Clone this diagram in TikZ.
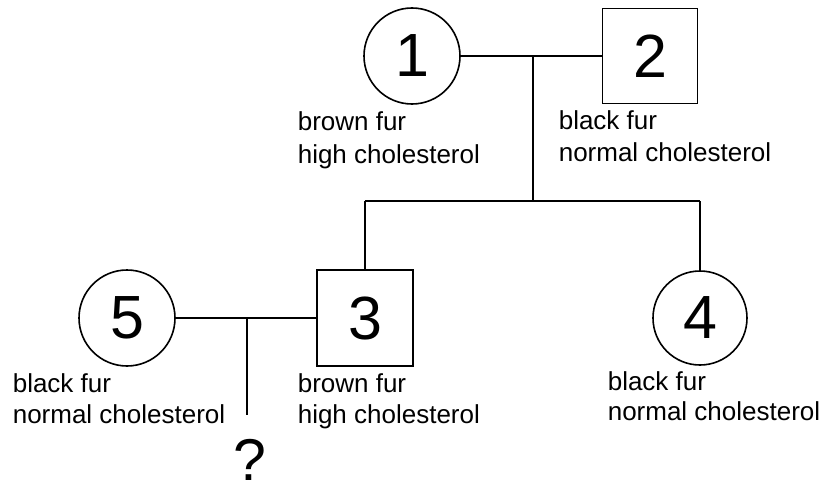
\documentclass[tikz,border=0pt]{standalone}
\usepackage{fontspec}
\setmainfont{Liberation Sans}
\begin{document}
\begin{tikzpicture}[x=1pt,y=-1pt,
  line width=1.6pt,
  female/.style={draw,circle,inner sep=0pt,minimum size=#1pt,font=\fontsize{61}{70}\selectfont},
  male/.style={draw,rectangle,inner sep=0pt,minimum size=#1pt,font=\fontsize{61}{70}\selectfont},
  lbl/.style={anchor=base west,inner sep=0pt,font=\fontsize{26}{30}\selectfont},
  link/.style={draw,line width=1.6pt}]
\useasboundingbox (0,0) rectangle (825,487);
% individuals
\node[female=96] (c1) at (412,56) {1};
\node[male=95]   (s2) at (650,56) {2};
\node[male=96]   (s3) at (365,318) {3};
\node[female=94] (c4) at (700,318) {4};
\node[female=96] (c5) at (127,318) {5};
% labels
\node[lbl] (l1a) at (297,130) {brown fur};
\node[lbl] (l1b) at (297,163) {high cholesterol};
\node[lbl] (l2a) at (558,129) {black fur};
\node[lbl] (l2b) at (558,161) {normal cholesterol};
\node[lbl] (l5a) at (12,392) {black fur};
\node[lbl] (l5b) at (12,423) {normal cholesterol};
\node[lbl] (l3a) at (297,392) {brown fur};
\node[lbl] (l3b) at (297,423) {high cholesterol};
\node[lbl] (l4a) at (607,390) {black fur};
\node[lbl] (l4b) at (607,420) {normal cholesterol};
\node[anchor=base,inner sep=0pt,font=\fontsize{59}{68}\selectfont] (q) at (250,480) {?};
% junction points
\coordinate (m12) at (533,56);
\coordinate (j1) at (533,201);
\coordinate (j3) at (365,201);
\coordinate (j4) at (700,201);
\coordinate (m53) at (247,318);
\coordinate (qend) at (247,415);
% connectors
\draw[link] (c1.east) -- (s2.west);
\draw[link] (m12) -- (j1);
\draw[link] (j3) -- (j4);
\draw[link] (j3) -- (s3.north);
\draw[link] (j4) -- (c4.north);
\draw[link] (c5.east) -- (s3.west);
\draw[link] (m53) -- (qend);
\end{tikzpicture}
\end{document}
